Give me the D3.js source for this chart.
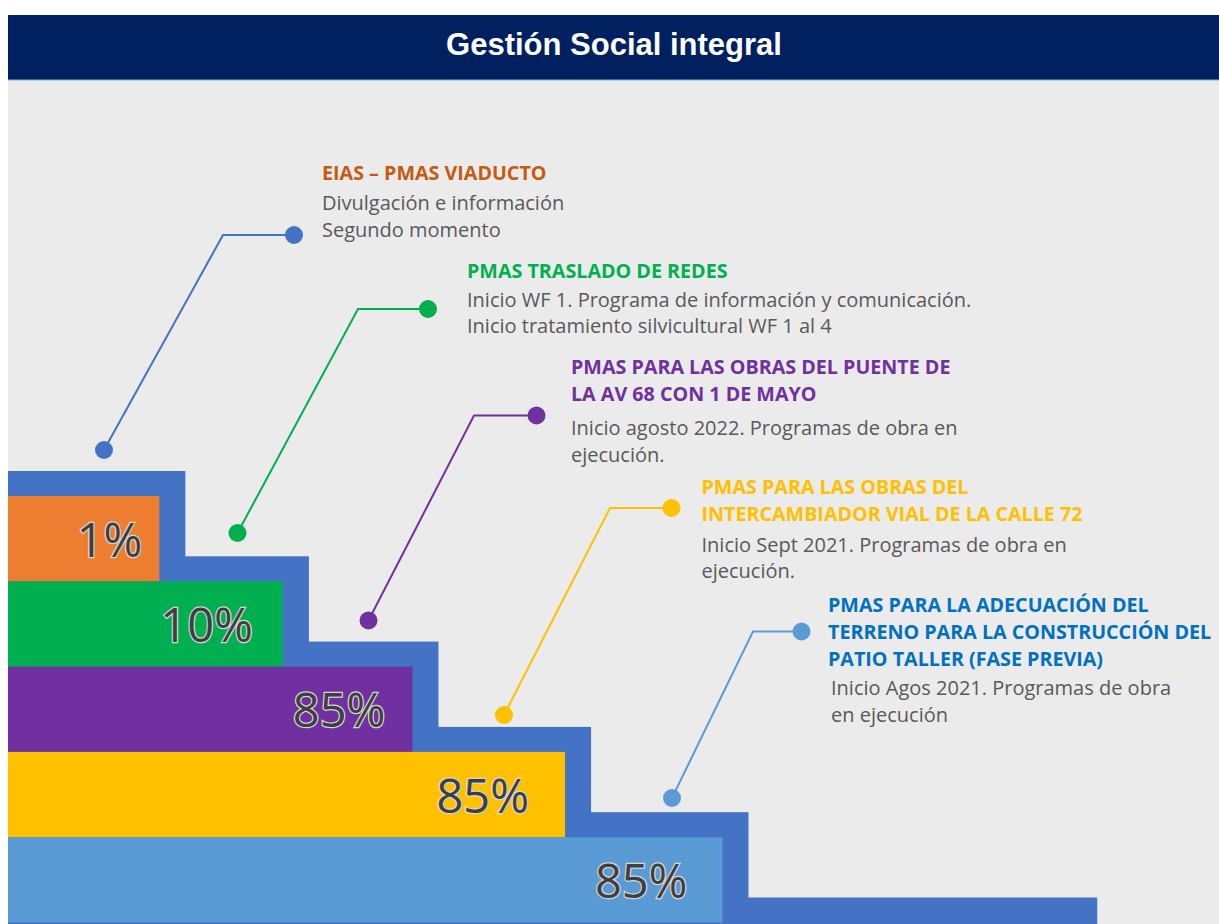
<!DOCTYPE html>
<html>
  <head>
    <meta charset="utf-8">
    <script src="https://cdn.jsdelivr.net/npm/d3@7/dist/d3.min.js"></script>
    <style>
      body {
        margin: 0;
        background: #fff;
      }

      .title {
        font-family: "Liberation Sans", Arial, sans-serif;
        font-weight: bold;
        fill: #fff;
      }

      .pct {
        font-family: "Open Sans", sans-serif;
        fill: #3f3f3f;
        stroke: #d6d6d6;
        stroke-width: 2.5px;
        paint-order: stroke fill;
      }

      .head {
        font-family: "Open Sans", sans-serif;
        font-weight: bold;
      }

      .note {
        font-family: "Open Sans", sans-serif;
        fill: #595959;
      }
    </style>
  </head>
  <body>
    <script>
      const width = 1219;
      const height = 924;

      // one step per programme, the last step has no bar on screen
      const steps = ['Viaducto', 'Traslado de redes', 'Puente Av 68', 'Calle 72', 'Patio taller', 'Siguiente'];
      const stepLength = [12.5, 22.7, 33.4, 46.0, 59.0, 87.8];
      const progress = ['1%', '10%', '85%', '85%', '85%', null];
      const barColors = ['#ed7d31', '#00b050', '#7030a0', '#ffc000', '#5b9bd5'];

      const headings = [
        ['EIAS – PMAS VIADUCTO'],
        ['PMAS TRASLADO DE REDES'],
        ['PMAS PARA LAS OBRAS DEL PUENTE DE', 'LA AV 68 CON 1 DE MAYO'],
        ['PMAS PARA LAS OBRAS DEL', 'INTERCAMBIADOR VIAL DE LA CALLE 72'],
        ['PMAS PARA LA ADECUACIÓN DEL', 'TERRENO PARA LA CONSTRUCCIÓN DEL', 'PATIO TALLER (FASE PREVIA)']
      ];
      const notes = [
        ['Divulgación e información', 'Segundo momento'],
        ['Inicio WF 1. Programa de información y comunicación.', 'Inicio tratamiento silvicultural WF 1 al 4'],
        ['Inicio agosto 2022. Programas de obra en', 'ejecución.'],
        ['Inicio Sept 2021. Programas de obra en', 'ejecución.'],
        ['Inicio Agos 2021. Programas de obra', 'en ejecución']
      ];
      const headColors = ['#c55a11', '#00b050', '#7030a0', '#ffc000', '#0070c0'];
      const lineColors = ['#4472c4', '#00b050', '#7030a0', '#ffc000', '#5b9bd5'];

      // distance from bar end to end of its percentage label
      const labelInset = [17, 30, 27, 36, 35];

      // callout geometry: foot dot, elbow, head dot, text position
      const callouts = [
        {foot: [104, 450], elbow: [223, 235], dot: [294, 235], tx: 322, nx: 322, hy: 180, ny: 210},
        {foot: [237.5, 533], elbow: [358, 309], dot: [428, 309], tx: 467, nx: 467, hy: 278, ny: 306.5},
        {foot: [368.5, 620.5], elbow: [474, 415.5], dot: [536.5, 415.5], tx: 571, nx: 571, hy: 373.5, ny: 435},
        {foot: [504, 715], elbow: [610, 508], dot: [671.5, 508], tx: 701.5, nx: 701.5, hy: 493.5, ny: 551.5},
        {foot: [672, 798], elbow: [753, 631.5], dot: [801.5, 631.5], tx: 828, nx: 831, hy: 611.5, ny: 695}
      ];

      const svg = d3.select('body')
        .append('svg')
        .attr('width', width)
        .attr('height', height);

      svg.append('rect')
        .attr('x', 8)
        .attr('y', 80)
        .attr('width', width - 8)
        .attr('height', height - 80)
        .attr('fill', '#ebebeb');

      svg.append('rect')
        .attr('x', 8)
        .attr('y', 15)
        .attr('width', width - 8)
        .attr('height', 65)
        .attr('fill', '#002060');

      svg.append('line')
        .attr('x1', 8)
        .attr('x2', width)
        .attr('y1', 80)
        .attr('y2', 80)
        .attr('stroke', '#8faadc')
        .attr('stroke-width', 1);

      svg.append('text')
        .attr('class', 'title')
        .attr('x', 614)
        .attr('y', 55)
        .attr('text-anchor', 'middle')
        .style('font-size', '31px')
        .text('Gestión Social integral');

      const xScale = d3.scaleLinear()
        .domain([0, 100])
        .range([8, width]);

      const yScale = d3.scaleBand()
        .domain(steps)
        .range([496, 496 + steps.length * 85.3]);

      const lift = 25;
      const ledge = 26;

      const chart = svg.append('g');

      chart.selectAll('rect.step').data(steps)
        .enter()
        .append('rect')
        .attr('class', 'step')
        .attr('x', xScale(0))
        .attr('y', d => yScale(d) - lift)
        .attr('width', (d, i) => xScale(stepLength[i]) - xScale(0) + ledge)
        .attr('height', height)
        .attr('fill', '#4472c4');

      chart.selectAll('rect.bar').data(steps.slice(0, barColors.length))
        .enter()
        .append('rect')
        .attr('class', 'bar')
        .attr('x', xScale(0))
        .attr('y', d => yScale(d))
        .attr('width', (d, i) => xScale(stepLength[i]) - xScale(0))
        .attr('height', yScale.bandwidth())
        .attr('fill', (d, i) => barColors[i]);

      chart.selectAll('text.pct').data(steps.slice(0, barColors.length))
        .enter()
        .append('text')
        .attr('class', 'pct')
        .attr('x', (d, i) => xScale(stepLength[i]) - labelInset[i])
        .attr('y', d => yScale(d) + yScale.bandwidth() / 2 + 18)
        .attr('text-anchor', 'end')
        .style('font-size', '47px')
        .text((d, i) => progress[i]);

      const line = d3.line();

      callouts.forEach((c, i) => {
        const g = svg.append('g');

        g.append('path')
          .attr('d', line([c.foot, c.elbow, c.dot]))
          .attr('fill', 'none')
          .attr('stroke', lineColors[i])
          .attr('stroke-width', 2);

        g.selectAll('circle').data([c.foot, c.dot])
          .enter()
          .append('circle')
          .attr('cx', d => d[0])
          .attr('cy', d => d[1])
          .attr('r', 9)
          .attr('fill', lineColors[i]);

        g.selectAll('text.head').data(headings[i])
          .enter()
          .append('text')
          .attr('class', 'head')
          .attr('x', c.tx)
          .attr('y', (d, j) => c.hy + j * 27)
          .attr('fill', headColors[i])
          .style('font-size', '19.7px')
          .text(d => d);

        g.selectAll('text.note').data(notes[i])
          .enter()
          .append('text')
          .attr('class', 'note')
          .attr('x', c.nx)
          .attr('y', (d, j) => c.ny + j * 26.5)
          .style('font-size', '20px')
          .text(d => d);
      });
    </script>
  </body>
</html>
